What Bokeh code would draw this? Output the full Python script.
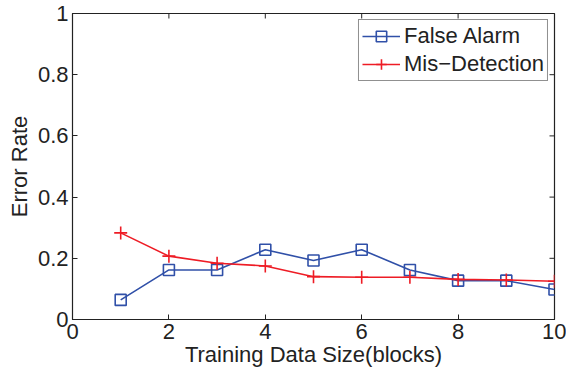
from bokeh.plotting import figure
from bokeh.models import LinearAxis, FixedTicker, Range1d, Legend, LegendItem
from bokeh.embed import file_html
from bokeh.resources import INLINE

blocks = [1, 2, 3, 4, 5, 6, 7, 8, 9, 10]
false_alarm = [0.064, 0.162, 0.162, 0.228, 0.193, 0.228, 0.162, 0.127, 0.127, 0.098]
mis_detection = [0.283, 0.207, 0.184, 0.175, 0.140, 0.138, 0.138, 0.131, 0.129, 0.125]
x_ticks = [0, 2, 4, 6, 8, 10]
y_ticks = [0, 0.2, 0.4, 0.6, 0.8, 1]
y_tick_labels = {0: "0", 0.2: "0.2", 0.4: "0.4", 0.6: "0.6", 0.8: "0.8", 1: "1"}

FONT = "Liberation Sans"
FS = "22px"
BLUE = "#3050a8"
RED = "#ee1c25"
INK = "#222222"

p = figure(width=566, height=373, output_backend="svg", toolbar_location=None,
           x_range=Range1d(0, 10), y_range=Range1d(0, 1),
           x_axis_location=None, y_axis_location=None,
           min_border_left=72, min_border_right=12, min_border_top=13, min_border_bottom=54)
p.xgrid.visible = False
p.ygrid.visible = False
p.outline_line_color = INK
p.outline_line_width = 1.2
p.background_fill_color = "white"
p.border_fill_color = "white"

def style(ax):
    ax.major_tick_in = 5
    ax.major_tick_out = 0
    ax.minor_tick_in = 0
    ax.minor_tick_out = 0
    ax.axis_line_color = INK
    ax.major_tick_line_color = INK
    ax.major_label_text_font = FONT
    ax.major_label_text_font_size = FS
    ax.major_label_text_color = INK
    ax.axis_label_text_font = FONT
    ax.axis_label_text_font_size = FS
    ax.axis_label_text_font_style = "normal"
    ax.axis_label_text_color = INK

xb = LinearAxis(ticker=FixedTicker(ticks=x_ticks), axis_label="Training Data Size(blocks)")
style(xb)
xb.major_label_standoff = 4
xb.axis_label_standoff = 0
p.add_layout(xb, "below")

yl = LinearAxis(ticker=FixedTicker(ticks=y_ticks), axis_label="Error Rate")
style(yl)
yl.major_label_overrides = y_tick_labels
yl.major_label_standoff = 4
yl.axis_label_standoff = 3
p.add_layout(yl, "left")

# mirrored inward ticks on the top and right edges (half of each dash is clipped by the frame)
p.scatter(x_ticks, [1] * len(x_ticks), marker="dash", angle=1.5708, size=10,
          line_color=INK, line_width=1)
p.scatter([10] * len(y_ticks), y_ticks, marker="dash", size=10,
          line_color=INK, line_width=1)

fa_line = p.line(blocks, false_alarm, line_color=BLUE, line_width=1.6)
fa_mark = p.scatter(blocks, false_alarm, marker="square", size=11, fill_color=None,
                    line_color=BLUE, line_width=1.6)
md_line = p.line(blocks, mis_detection, line_color=RED, line_width=1.6)
md_mark = p.scatter(blocks, mis_detection, marker="cross", size=13,
                    line_color=RED, line_width=1.6)

legend = Legend(items=[LegendItem(label="False Alarm", renderers=[fa_line, fa_mark]),
                       LegendItem(label="Mis\u2212Detection", renderers=[md_line, md_mark])],
                location="top_right")
legend.margin = 6
legend.padding = 3
legend.spacing = 2
legend.glyph_width = 38
legend.glyph_height = 26
legend.label_standoff = 4
legend.label_text_font = FONT
legend.label_text_font_size = FS
legend.label_text_color = INK
legend.border_line_color = INK
legend.border_line_width = 1.2
legend.background_fill_alpha = 1
p.add_layout(legend, "center")

open("out.html", "w").write(file_html(p, INLINE))
